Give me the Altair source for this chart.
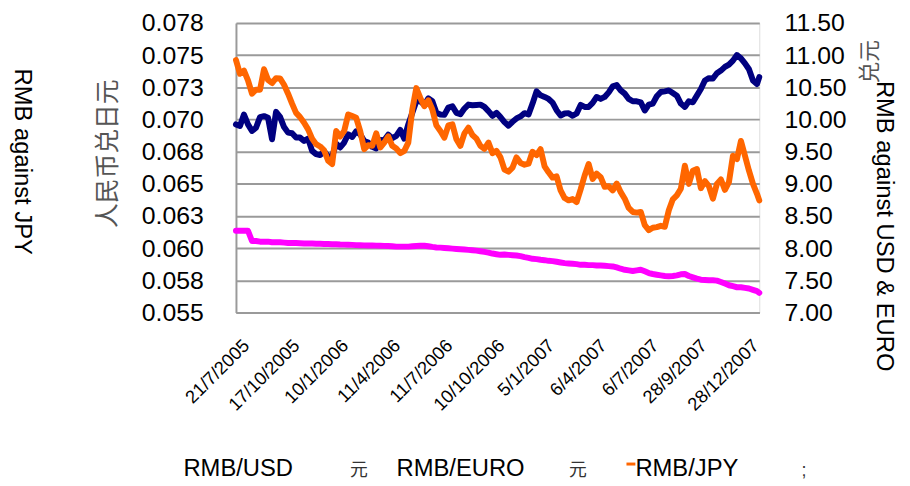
import altair as alt
import pandas as pd

# ---- data (weekly samples) ----
dates = pd.date_range("2005-07-04", periods=131, freq="7D").strftime("%Y-%m-%d").tolist() + ["2008-01-04"]

rmb_euro = [
    9.923, 9.898, 10.077, 9.923, 9.821, 9.872, 10.036, 10.052, 10.026, 9.692,
    10.118, 10.041, 9.882, 9.795, 9.785, 9.718, 9.718, 9.666, 9.702, 9.512,
    9.461, 9.446, 9.502, 9.425, 9.425, 9.625, 9.564, 9.641, 9.769, 9.728,
    9.815, 9.769, 9.666, 9.641, 9.574, 9.548, 9.682, 9.677, 9.764, 9.708,
    9.744, 9.836, 9.702, 9.923, 10.103, 10.283, 10.283, 10.226, 10.329, 10.283,
    10.103, 10.077, 10.072, 10.185, 10.206, 10.103, 10.082, 10.170, 10.231, 10.221,
    10.226, 10.231, 10.195, 10.129, 10.057, 10.103, 10.036, 9.959, 9.903, 9.964,
    10.016, 10.047, 10.098, 10.077, 10.247, 10.437, 10.375, 10.350, 10.319, 10.262,
    10.144, 10.062, 10.093, 10.098, 10.057, 10.093, 10.226, 10.195, 10.195, 10.257,
    10.350, 10.319, 10.350, 10.421, 10.514, 10.534, 10.452, 10.401, 10.319, 10.283,
    10.283, 10.267, 10.139, 10.231, 10.247, 10.360, 10.427, 10.437, 10.452, 10.411,
    10.370, 10.247, 10.195, 10.283, 10.267, 10.370, 10.473, 10.606, 10.642, 10.637,
    10.719, 10.760, 10.817, 10.853, 10.915, 11.002, 10.950, 10.873, 10.781, 10.606,
    10.550, 10.658,
]

rmb_jpy = [
    0.07462, 0.07355, 0.07380, 0.07303, 0.07200, 0.07231, 0.07231, 0.07390, 0.07308, 0.07283,
    0.07321, 0.07319, 0.07270, 0.07200, 0.07123, 0.07051, 0.07018, 0.06974, 0.06923, 0.06851,
    0.06808, 0.06790, 0.06759, 0.06679, 0.06653, 0.06910, 0.06867, 0.06910, 0.07039, 0.07026,
    0.07013, 0.06910, 0.06769, 0.06800, 0.06795, 0.06892, 0.06782, 0.06820, 0.06869, 0.06795,
    0.06774, 0.06738, 0.06756, 0.06820, 0.07077, 0.07244, 0.07167, 0.07103, 0.07149, 0.07077,
    0.06954, 0.06910, 0.06859, 0.06954, 0.06962, 0.06846, 0.06795, 0.06892, 0.06936, 0.06879,
    0.06851, 0.06795, 0.06772, 0.06820, 0.06738, 0.06756, 0.06705, 0.06610, 0.06594, 0.06625,
    0.06705, 0.06661, 0.06648, 0.06656, 0.06749, 0.06723, 0.06769, 0.06636, 0.06589, 0.06548,
    0.06558, 0.06448, 0.06389, 0.06371, 0.06381, 0.06358, 0.06456, 0.06564, 0.06653, 0.06538,
    0.06579, 0.06551, 0.06476, 0.06481, 0.06448, 0.06502, 0.06435, 0.06384, 0.06312, 0.06281,
    0.06276, 0.06281, 0.06178, 0.06140, 0.06158, 0.06163, 0.06173, 0.06166, 0.06294, 0.06379,
    0.06410, 0.06461, 0.06641, 0.06499, 0.06602, 0.06615, 0.06466, 0.06520, 0.06481, 0.06384,
    0.06499, 0.06533, 0.06453, 0.06512, 0.06718, 0.06692, 0.06833, 0.06718, 0.06602, 0.06499,
    0.06422, 0.06371,
]

rmb_usd = [
    8.270, 8.270, 8.270, 8.270, 8.110, 8.110, 8.100, 8.100, 8.100, 8.090,
    8.090, 8.090, 8.085, 8.080, 8.080, 8.078, 8.075, 8.072, 8.070, 8.070,
    8.068, 8.066, 8.064, 8.062, 8.060, 8.060, 8.056, 8.054, 8.052, 8.050,
    8.046, 8.044, 8.042, 8.040, 8.040, 8.038, 8.036, 8.034, 8.031, 8.028,
    8.023, 8.023, 8.023, 8.023, 8.028, 8.033, 8.038, 8.036, 8.028, 8.018,
    8.010, 8.007, 8.002, 7.997, 7.992, 7.987, 7.982, 7.977, 7.972, 7.966,
    7.961, 7.951, 7.941, 7.930, 7.915, 7.905, 7.895, 7.900, 7.894, 7.889,
    7.884, 7.874, 7.859, 7.848, 7.833, 7.828, 7.818, 7.812, 7.802, 7.797,
    7.787, 7.776, 7.766, 7.761, 7.756, 7.751, 7.740, 7.740, 7.735, 7.735,
    7.730, 7.730, 7.725, 7.720, 7.715, 7.699, 7.679, 7.663, 7.653, 7.643,
    7.653, 7.663, 7.638, 7.612, 7.597, 7.586, 7.576, 7.566, 7.561, 7.566,
    7.576, 7.592, 7.597, 7.566, 7.545, 7.525, 7.509, 7.504, 7.499, 7.499,
    7.494, 7.473, 7.448, 7.422, 7.407, 7.391, 7.391, 7.381, 7.371, 7.350,
    7.330, 7.304,
]

tick_dates = [(2005, 7, 21), (2005, 10, 17), (2006, 1, 10), (2006, 4, 11), (2006, 7, 11),
              (2006, 10, 10), (2007, 1, 5), (2007, 4, 6), (2007, 7, 6), (2007, 9, 28), (2007, 12, 28)]
left_ticks = [0.055, 0.0575, 0.06, 0.0625, 0.065, 0.0675, 0.07, 0.0725, 0.075, 0.0775]
right_ticks = [7.0, 7.5, 8.0, 8.5, 9.0, 9.5, 10.0, 10.5, 11.0, 11.5]

assert len(dates) == len(rmb_euro) == len(rmb_jpy) == len(rmb_usd)

FONT = "Liberation Sans"
CJK = "Noto Sans CJK SC"
W, H = 528, 292
PAD_L, PAD_T = 230, 13

df_right = pd.DataFrame({
    "date": dates * 2,
    "series": ["RMB/USD"] * len(dates) + ["RMB/EURO"] * len(dates),
    "value": rmb_usd + rmb_euro,
})
df_left = pd.DataFrame({"date": dates, "jpy": rmb_jpy})

x_scale = alt.Scale(
    type="utc",
    domain=[alt.DateTime(year=2005, month=7, date=4, utc=True),
            alt.DateTime(year=2008, month=1, date=4, utc=True)],
)
x_axis = alt.Axis(
    values=[alt.DateTime(year=y, month=m, date=d, utc=True) for y, m, d in tick_dates],
    labelExpr="utcFormat(datum.value, '%-d/%-m/%Y')",
    labelAngle=-45, labelAlign="right", labelBaseline="middle",
    labelFontSize=18.5, labelFont=FONT, labelColor="#000000", labelPadding=30,
    ticks=False, grid=False, domain=True, domainColor="#9a9a9a", domainWidth=2,
    title=None, labelOverlap=False,
)

right = alt.Chart(df_right).mark_line(strokeWidth=6, strokeJoin="round", strokeCap="round").encode(
    x=alt.X("date:T", scale=x_scale, axis=x_axis),
    y=alt.Y("value:Q", scale=alt.Scale(domain=[7, 11.5], nice=False, zero=False),
            axis=alt.Axis(orient="right", values=right_ticks, format=".2f", grid=False,
                          domain=False, ticks=False, labelPadding=25, labelFontSize=25,
                          labelFont=FONT, labelColor="#000000", title=None)),
    color=alt.Color("series:N", scale=alt.Scale(domain=["RMB/USD", "RMB/EURO"],
                                                range=["#FF00FF", "#000080"]), legend=None),
)

left = alt.Chart(df_left).mark_line(strokeWidth=6, strokeJoin="round", strokeCap="round",
                                    color="#FF6600").encode(
    x=alt.X("date:T", scale=x_scale, axis=x_axis),
    y=alt.Y("jpy:Q", scale=alt.Scale(domain=[0.055, 0.0775], nice=False, zero=False),
            axis=alt.Axis(orient="left", values=left_ticks,
                          labelExpr="format(datum.value + 0.0000001, '.3f')",
                          grid=True, gridColor="#9a9a9a", gridWidth=2,
                          domain=True, domainColor="#9a9a9a", domainWidth=2, ticks=False,
                          labelPadding=33, labelFontSize=25, labelFont=FONT,
                          labelColor="#000000", title=None)),
)


def label(text, px, py, angle=0, size=24, font=FONT, color="#000000", align="center",
          baseline="middle"):
    # px, py: page position of the text anchor
    return alt.Chart(pd.DataFrame({"t": [text]})).mark_text(
        angle=angle, fontSize=size, font=font, color=color, align=align, baseline=baseline
    ).encode(x=alt.value(px - PAD_L - 8), y=alt.value(py - PAD_T - 8), text="t:N")


texts = [
    label("RMB against JPY", 22, 161, angle=90),
    label("人民币兑日元", 109, 153, angle=270, size=25, font=CJK, color="#555555"),
    label("RMB against USD & EURO", 892, 226, angle=90),
    label("兑元", 878, 60, angle=270, size=22, font=CJK, color="#555555"),
    label("RMB/USD", 185, 478, align="left", baseline="alphabetic"),
    label("元", 362, 478, size=18, font=CJK, color="#333333", baseline="alphabetic"),
    label("RMB/EURO", 400, 478, align="left", baseline="alphabetic"),
    label("元", 583, 478, size=18, font=CJK, color="#333333", baseline="alphabetic"),
    label("RMB/JPY", 641, 478, align="left", baseline="alphabetic"),
    label(";", 811, 478, size=18, color="#333333", baseline="alphabetic"),
]

dash = alt.Chart(pd.DataFrame({"k": [1]})).mark_rule(color="#FF6600", strokeWidth=3).encode(
    x=alt.value(632 - PAD_L - 8), x2=alt.value(641 - PAD_L - 8), y=alt.value(466 - PAD_T - 8)
)

chart = alt.layer(right, left, dash, *texts).resolve_scale(y="independent").properties(
    width=W, height=H,
    autosize=alt.AutoSizeParams(type="none"),
    padding={"left": PAD_L, "top": PAD_T, "right": 902 - PAD_L - W, "bottom": 474 - PAD_T - H},
).configure_view(strokeWidth=0).configure(background="white")

chart.save("out.html", embed_options={"renderer": "svg", "actions": False})
